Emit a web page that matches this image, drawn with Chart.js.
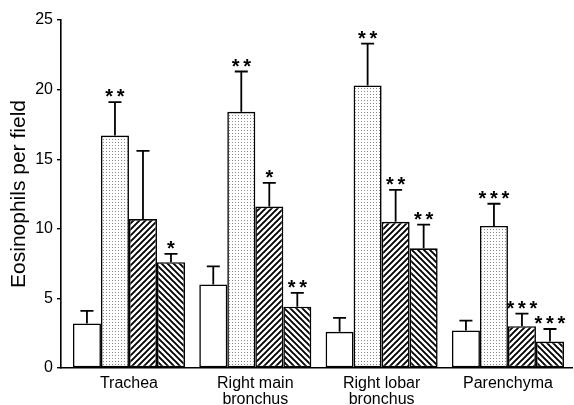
<!DOCTYPE html>
<html>
<head>
<meta charset="utf-8">
<script src="https://cdn.jsdelivr.net/npm/chart.js@4.4.1/dist/chart.umd.min.js"></script>
<style>
  html, body { margin: 0; padding: 0; background: #fff; }
  #wrap { width: 574px; height: 405px; }
</style>
</head>
<body>
<div id="wrap"><canvas id="graf"></canvas></div>
<script>
// sites along the airway
let sites = ["Trachea", ["Right main", "bronchus"], ["Right lobar", "bronchus"], "Parenchyma"]
let yTicks = [0, 5, 10, 15, 20, 25]

// mean values (bars) and mean + SEM (top of error bar)
let openVals = [3.2, 6.0, 2.6, 2.7]
let openErr = [4.1, 7.3, 3.6, 3.4]
let dotVals = [16.7, 18.4, 20.3, 10.2]
let dotErr = [19.1, 21.3, 23.3, 11.8]
let fwdVals = [10.7, 11.6, 10.5, 3.0]
let fwdErr = [15.6, 13.3, 12.8, 3.9]
let backVals = [7.6, 4.4, 8.6, 1.9]
let backErr = [8.2, 5.4, 10.3, 2.8]

// significance marks
let openStars = ["", "", "", ""]
let dotStars = ["**", "**", "**", "***"]
let fwdStars = ["", "*", "**", "***"]
let backStars = ["*", "**", "**", "***"]

const font = "'Liberation Sans', Arial, Helvetica, sans-serif"

function tile(size, draw) {
    let c = document.createElement("canvas")
    c.width = size
    c.height = size
    let g = c.getContext("2d")
    g.fillStyle = "#fff"
    g.fillRect(0, 0, size, size)
    draw(g, size)
    return c.getContext("2d").createPattern(c, "repeat")
}

const stipple = tile(3, (g) => {
    g.fillStyle = "#8a8a8a"
    g.fillRect(1, 1, 1, 1)
})
const hatchFwd = tile(6, (g, s) => {
    g.strokeStyle = "#000"
    g.lineWidth = 1.9
    g.beginPath()
    g.moveTo(-1, s + 1); g.lineTo(s + 1, -1)
    g.moveTo(-2, 2); g.lineTo(2, -2)
    g.moveTo(s - 2, s + 2); g.lineTo(s + 2, s - 2)
    g.stroke()
})
const hatchBack = tile(6, (g, s) => {
    g.strokeStyle = "#000"
    g.lineWidth = 1.9
    g.beginPath()
    g.moveTo(-1, -1); g.lineTo(s + 1, s + 1)
    g.moveTo(s - 2, -2); g.lineTo(s + 2, 2)
    g.moveTo(-2, s - 2); g.lineTo(2, s + 2)
    g.stroke()
})

function points(vals) {
    return vals.map((v, i) => ({ x: i, y: v }))
}

let series = [
    { label: "A", data: points(openVals), backgroundColor: "#fff", err: openErr, stars: openStars },
    { label: "B", data: points(dotVals), backgroundColor: stipple, err: dotErr, stars: dotStars },
    { label: "C", data: points(fwdVals), backgroundColor: hatchFwd, err: fwdErr, stars: fwdStars },
    { label: "D", data: points(backVals), backgroundColor: hatchBack, err: backErr, stars: backStars }
]

// error bars (upper only) and asterisks
const errorBars = {
    id: "errorBars",
    afterDatasetsDraw(chart) {
        const ctx = chart.ctx
        const y = chart.scales.y
        ctx.save()
        ctx.strokeStyle = "#000"
        ctx.lineWidth = 1.8
        ctx.fillStyle = "#000"
        ctx.font = "bold 20px " + font
        ctx.textAlign = "center"
        ctx.textBaseline = "alphabetic"
        chart.data.datasets.forEach((ds, d) => {
            chart.getDatasetMeta(d).data.forEach((bar, i) => {
                let top = y.getPixelForValue(ds.err[i])
                ctx.beginPath()
                ctx.moveTo(bar.x, bar.y)
                ctx.lineTo(bar.x, top)
                ctx.moveTo(bar.x - 6.5, top)
                ctx.lineTo(bar.x + 6.5, top)
                ctx.stroke()
                let s = ds.stars[i]
                for (let k = 0; k < s.length; k++) {
                    let sx = bar.x + (k - (s.length - 1) / 2) * 11.5
                    ctx.fillText("*", sx, top + 1)
                }
            })
        })
        ctx.restore()
    }
}

Chart.defaults.color = "#000"
Chart.defaults.font.family = font

new Chart(document.getElementById("graf"), {
    type: "bar",
    data: { datasets: series },
    options: {
        animation: false,
        responsive: true,
        maintainAspectRatio: false,
        layout: { padding: { top: 20, right: 2, left: 0, bottom: 0 } },
        datasets: {
            bar: {
                borderColor: "#000",
                borderWidth: 1.6,
                borderSkipped: false,
                categoryPercentage: 0.887,
                barPercentage: 1.0
            }
        },
        plugins: {
            legend: { display: false },
            tooltip: { enabled: false }
        },
        scales: {
            x: {
                type: "linear",
                offset: false,
                min: -0.538,
                max: 3.507,
                grid: { display: false },
                border: { color: "#000", width: 1.6 },
                afterBuildTicks: (s) => { s.ticks = sites.map((_, i) => ({ value: i })) },
                afterFit: (s) => { s.height = 37 },
                ticks: {
                    autoSkip: false,
                    maxRotation: 0,
                    padding: 0,
                    font: { size: 16, lineHeight: 1.0 },
                    callback: (v) => sites[v]
                }
            },
            y: {
                min: 0,
                max: 25,
                afterBuildTicks: (s) => { s.ticks = yTicks.map((v) => ({ value: v })) },
                afterFit: (s) => { s.width = 61 },
                grid: { drawOnChartArea: false, drawTicks: true, tickLength: 4, color: "#000", lineWidth: 1.4 },
                border: { color: "#000", width: 1.6 },
                ticks: { padding: 4, font: { size: 16 } },
                title: {
                    display: true,
                    text: "Eosinophils per field",
                    font: { size: 21 },
                    padding: { top: 7, bottom: 0 }
                }
            }
        }
    },
    plugins: [errorBars]
})
</script>
</body>
</html>
